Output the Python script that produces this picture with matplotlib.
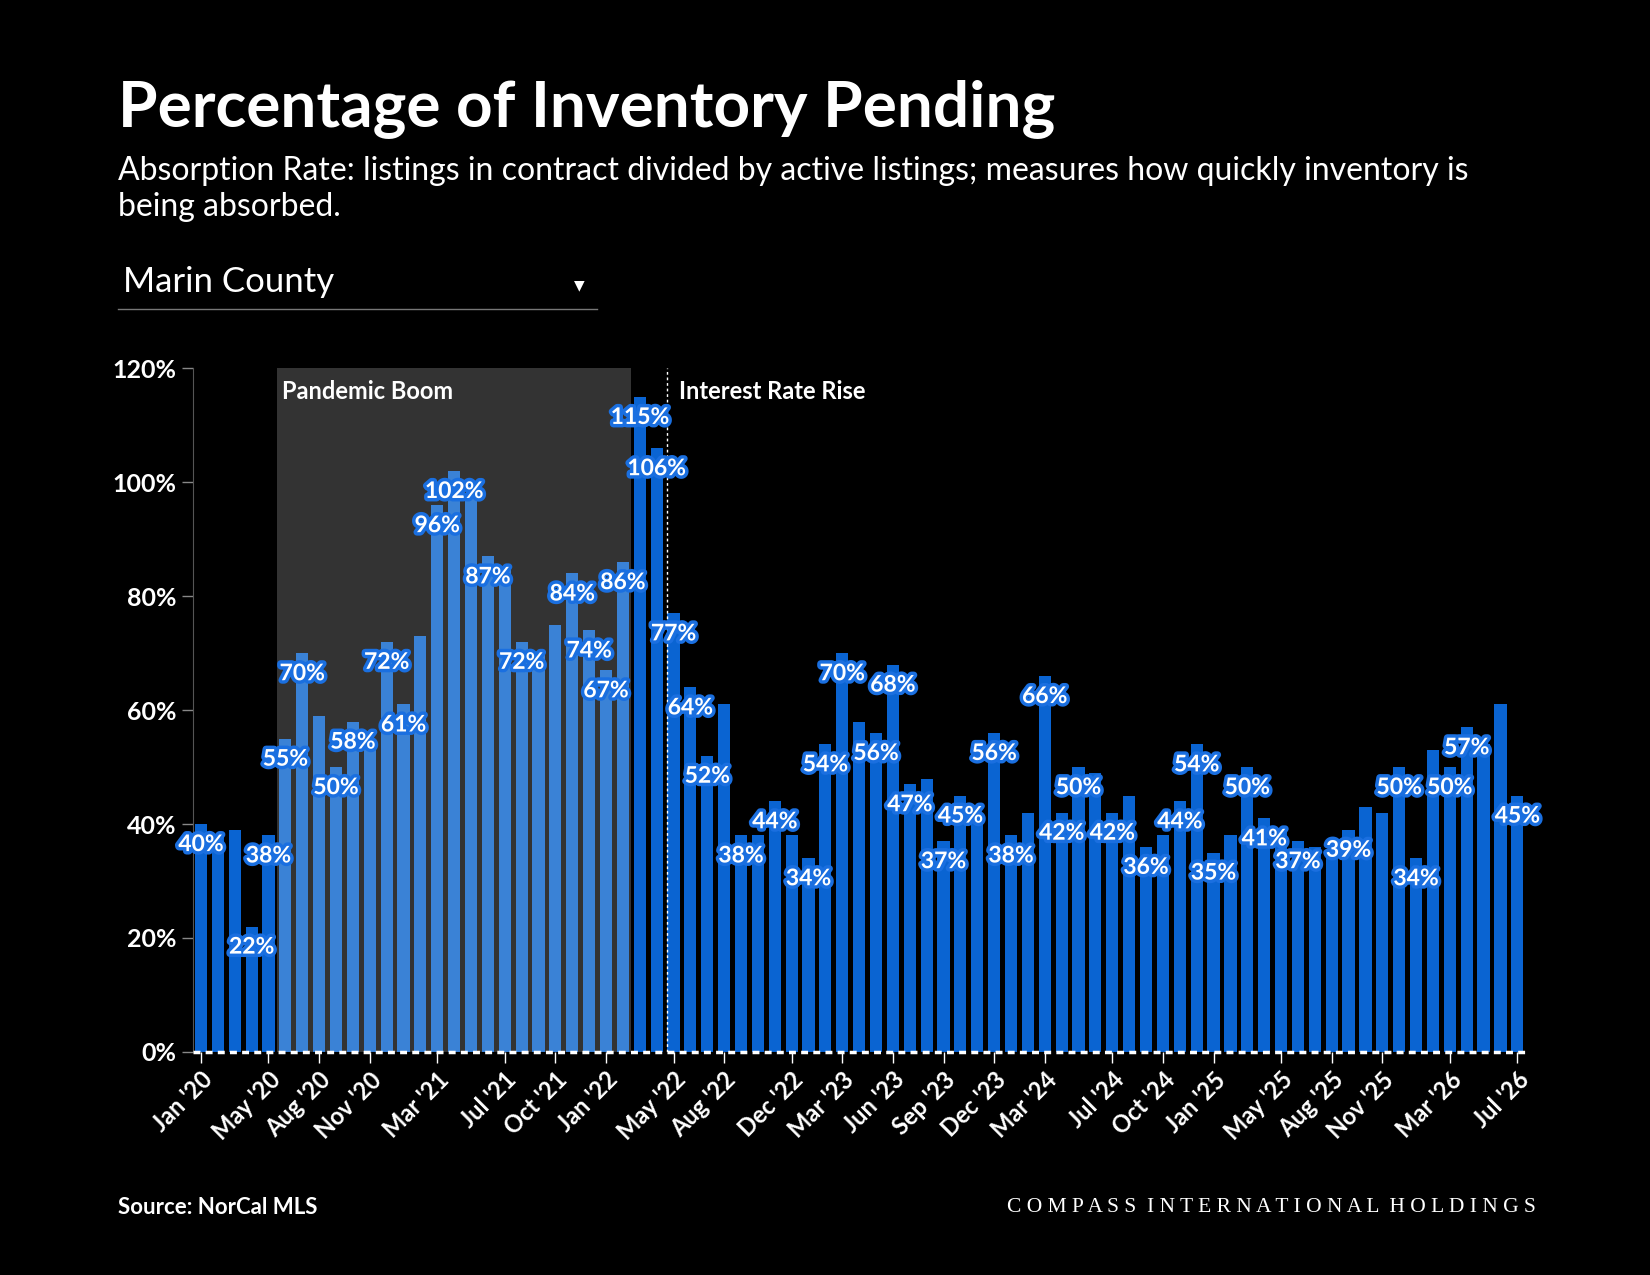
import matplotlib
matplotlib.use("Agg")
import matplotlib.pyplot as plt
import matplotlib.patheffects as pe
from matplotlib.lines import Line2D

values = [40,38,39,22,38,55,70,59,50,58,55,72,61,73,96,102,97,87,85,72,70,75,84,74,67,86,
          115,106,77,64,52,61,38,38,44,38,34,54,70,58,56,68,47,48,37,45,42,56,38,42,66,42,
          50,49,42,45,36,38,44,54,35,38,50,41,39,37,36,35,39,43,42,50,34,53,50,57,54,61,45]
labeled = [0,3,4,5,6,8,9,11,12,14,15,17,19,22,23,24,25,26,27,28,29,30,32,34,36,37,38,40,41,
           42,44,45,47,48,50,51,52,54,56,58,59,60,62,63,65,68,71,72,74,75,78]
tick_pos = [0,4,7,10,14,18,21,24,28,31,35,38,41,44,47,50,54,57,60,64,67,70,74,78]
tick_labels = ["Jan '20","May '20","Aug '20","Nov '20","Mar '21","Jul '21","Oct '21","Jan '22",
               "May '22","Aug '22","Dec '22","Mar '23","Jun '23","Sep '23","Dec '23","Mar '24",
               "Jul '24","Oct '24","Jan '25","May '25","Aug '25","Nov '25","Mar '26","Jul '26"]
boom_start, boom_end = 5, 25
rate_rise = 27.6

FONT = "Lato"
fig = plt.figure(figsize=(16.5, 12.75), dpi=100, facecolor="black")
ax = fig.add_axes([0.1167, 0.175, 0.808, 0.536], facecolor="black")

ax.axvspan(boom_start - 0.5, boom_end + 0.5, ymin=0, ymax=1, color="#333333", zorder=0, lw=0)
x = list(range(len(values)))
colors = ["#3a82d6" if boom_start <= i <= boom_end else "#0a64d2" for i in x]
ax.bar(x, values, width=0.72, color=colors, zorder=2)
ax.axvline(rate_rise, color="white", ls=(0, (2, 2)), lw=1, zorder=3)

ax.text(boom_start - 0.2, 116, "Pandemic Boom", color="white", fontsize=17, fontweight="bold",
        family=FONT, va="center", ha="left", zorder=4)
ax.text(rate_rise + 0.7, 116, "Interest Rate Rise", color="white", fontsize=17, fontweight="bold",
        family=FONT, va="center", ha="left", zorder=4)

for i in labeled:
    ax.text(i, values[i] - 3.6, f"{values[i]}%", color="white", fontsize=16.5, fontweight="bold",
            family=FONT, ha="center", va="center", zorder=5,
            path_effects=[pe.withStroke(linewidth=5, foreground="#1a6fe0")])

ax.set_xlim(-0.5, len(values) - 0.5)
ax.set_ylim(0, 120)
ax.set_yticks(range(0, 121, 20))
ax.set_yticklabels([f"{v}%" for v in range(0, 121, 20)], color="white", fontsize=18,
                   fontweight="bold", family=FONT)
ax.set_xticks(tick_pos)
ax.set_xticklabels(tick_labels, rotation=45, ha="right", rotation_mode="anchor", color="white",
                   fontsize=17, fontweight="bold", family=FONT)
ax.tick_params(axis="y", colors="#888888", length=8, width=1, labelcolor="white")
ax.tick_params(axis="x", colors="white", length=8, width=1, labelcolor="white")
for s in ["top", "right", "bottom"]:
    ax.spines[s].set_visible(False)
ax.spines["left"].set_color("#555555")
ax.axhline(0, color="white", lw=2.5, ls=(0, (2, 1.5)), zorder=6, clip_on=False)

fig.text(0.0714, 0.915, "Percentage of Inventory Pending", color="white", fontsize=46,
         fontweight="bold", family=FONT, va="center")
fig.text(0.0714, 0.866, "Absorption Rate: listings in contract divided by active listings; measures how quickly inventory is",
         color="white", fontsize=23, family=FONT, va="center")
fig.text(0.0714, 0.838, "being absorbed.", color="white", fontsize=23, family=FONT, va="center")
fig.text(0.0746, 0.779, "Marin County", color="white", fontsize=25, family=FONT, va="center")
fig.add_artist(Line2D([0.0714, 0.3616], [0.7574, 0.7574], color="#777777", lw=1))
fig.text(0.351, 0.776, "\u25BC", color="white", fontsize=10, family="DejaVu Sans", va="center", ha="center")
fig.text(0.0714, 0.053, "Source: NorCal MLS", color="white", fontsize=16, fontweight="bold",
         family=FONT, va="center")
fig.text(0.931, 0.053, "C O M P A S S   I N T E R N A T I O N A L   H O L D I N G S".replace("   ", "  "),
         color="white", fontsize=15.5, family="Liberation Serif", va="center", ha="right")

fig.savefig("out.png", dpi=100, facecolor="black")
